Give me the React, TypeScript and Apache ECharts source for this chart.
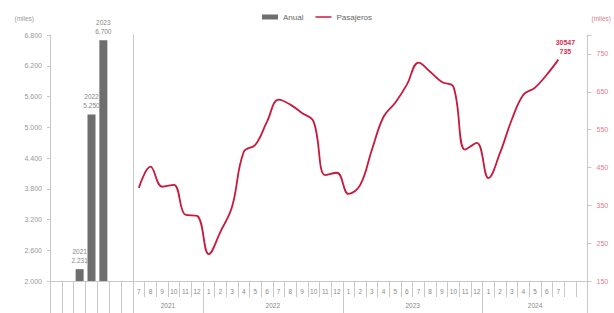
import React, { useEffect, useRef } from "react";
import * as echarts from "echarts";

// Annual bars (thousands)
const years = ["2021", "2022", "2023"];
const annual = [2231, 5250, 6700];
const barSlotsBefore = 2;
const barSlotsAfter = 2;

// Monthly passengers (thousands), Jul 2021 – Jul 2024
const months = [
  "7", "8", "9", "10", "11", "12",
  "1", "2", "3", "4", "5", "6", "7", "8", "9", "10", "11", "12",
  "1", "2", "3", "4", "5", "6", "7", "8", "9", "10", "11", "12",
  "1", "2", "3", "4", "5", "6", "7", "", "",
];
const pasajeros = [
  396, 452, 399, 404, 325, 322,
  221, 280, 346, 491, 510, 571, 629, 616, 594, 571, 430, 436,
  380, 404, 497, 584, 621, 669, 727, 703, 676, 663, 497, 515,
  422, 489, 576, 642, 661, 695, 735,
];
const lineYears = ["2021", "2022", "2023", "2024"];
const yearSpans = [6, 12, 12, 9];
const lastLabel = ["30547", "735"];

const leftTicks = { min: 2000, max: 6800, interval: 600 };
const rightTicks = { min: 150, max: 800, interval: 100, hide: 800 };

const fmt = (v: number) =>
  String(Math.round(v)).replace(/\B(?=(\d{3})+(?!\d))/g, ".");

export default function App() {
  const ref = useRef<HTMLDivElement>(null);
  useEffect(() => {
    if (!ref.current) return;
    const chart = echarts.init(ref.current, undefined, { renderer: "svg" });

    const barCats = [
      ...Array(barSlotsBefore).fill(""),
      ...years,
      ...Array(barSlotsAfter).fill(""),
    ];
    const barData = [
      ...Array(barSlotsBefore).fill(null),
      ...annual,
      ...Array(barSlotsAfter).fill(null),
    ];

    // half-month positions for the year axis
    const totalSlots = yearSpans.reduce((a, b) => a + b, 0);
    const halfCats: string[] = Array(totalSlots * 2 + 1).fill("");
    const labelIdx = new Set<number>();
    const tickIdx = new Set<number>([0]);
    let acc = 0;
    yearSpans.forEach((span, i) => {
      const mid = acc * 2 + span;
      halfCats[mid] = lineYears[i];
      labelIdx.add(mid);
      acc += span;
      tickIdx.add(acc * 2);
    });

    const axisGray = "#c8c8c8";
    const font = "Liberation Sans, Arial, sans-serif";
    const red = "#c8193c";

    chart.setOption({
      animation: false,
      textStyle: { fontFamily: font },
      legend: {
        top: 8,
        left: 257,
        itemGap: 12,
        itemWidth: 16,
        itemHeight: 5,
        textStyle: { fontSize: 8, color: "#666", fontFamily: font },
        data: [
          { name: "Anual", icon: "rect" },
          { name: "Pasajeros", icon: "path://M0,0H32V3H0Z" },
        ],
      },
      grid: [
        { left: 50, width: 83, top: 35, height: 246 },
        { left: 133, width: 455, top: 35, height: 246 },
      ],
      xAxis: [
        {
          type: "category",
          gridIndex: 0,
          data: barCats,
          axisLine: { lineStyle: { color: axisGray } },
          axisTick: { show: true, interval: 0, length: 32, lineStyle: { color: axisGray } },
          axisLabel: { show: false },
        },
        {
          type: "category",
          gridIndex: 1,
          data: months,
          boundaryGap: true,
          axisLine: { lineStyle: { color: axisGray } },
          axisTick: { show: true, length: 16, interval: 0, lineStyle: { color: axisGray } },
          axisLabel: { interval: 0, fontSize: 6.5, color: "#888", margin: 7 },
        },
        {
          type: "category",
          gridIndex: 1,
          data: halfCats,
          boundaryGap: false,
          position: "bottom",
          axisLine: { show: false },
          axisTick: {
            show: true,
            length: 32,
            interval: (idx: number) => tickIdx.has(idx),
            lineStyle: { color: axisGray },
          },
          axisLabel: {
            interval: (idx: number) => labelIdx.has(idx),
            fontSize: 6.5,
            color: "#888",
            margin: 21,
          },
        },
      ],
      yAxis: [
        {
          type: "value",
          gridIndex: 0,
          min: leftTicks.min,
          max: leftTicks.max,
          interval: leftTicks.interval,
          name: "(miles)",
          nameGap: 13,
          nameTextStyle: { fontSize: 6.5, color: "#999", align: "right", padding: [0, 16, 0, 0] },
          axisLine: { show: true, lineStyle: { color: axisGray } },
          axisTick: { show: true, length: 3, lineStyle: { color: axisGray } },
          axisLabel: { fontSize: 7, color: "#999", margin: 8, formatter: (v: number) => fmt(v) },
          splitLine: { show: false },
        },
        {
          type: "value",
          gridIndex: 1,
          position: "right",
          min: rightTicks.min,
          max: rightTicks.max,
          interval: rightTicks.interval,
          name: "(miles)",
          nameGap: 13,
          nameTextStyle: { fontSize: 6.5, color: "#e27d8e", align: "left", padding: [0, 0, 0, 4] },
          axisLine: { show: true, lineStyle: { color: axisGray } },
          axisTick: { show: true, length: 4, lineStyle: { color: axisGray } },
          axisLabel: {
            fontSize: 7,
            color: "#e27d8e",
            margin: 9,
            formatter: (v: number) => (v === rightTicks.hide ? "" : String(v)),
          },
          splitLine: { show: false },
        },
        {
          type: "value",
          gridIndex: 1,
          position: "left",
          min: rightTicks.min,
          max: rightTicks.max,
          axisLine: { show: true, lineStyle: { color: axisGray } },
          axisTick: { show: false },
          axisLabel: { show: false },
          splitLine: { show: false },
        },
      ],
      series: [
        {
          name: "Anual",
          type: "bar",
          xAxisIndex: 0,
          yAxisIndex: 0,
          data: barData,
          barWidth: 8,
          itemStyle: { color: "#6e6e6e" },
          label: {
            show: true,
            position: "top",
            distance: 4,
            fontSize: 6.5,
            lineHeight: 9,
            color: "#888",
            formatter: (p: any) => `${p.name}\n${fmt(p.value)}`,
          },
        },
        {
          name: "Pasajeros",
          type: "line",
          xAxisIndex: 1,
          yAxisIndex: 1,
          data: pasajeros,
          smooth: 0.4,
          showSymbol: false,
          symbol: "none",
          lineStyle: { color: red, width: 1.8 },
          itemStyle: { color: red },
          endLabel: {
            show: true,
            formatter: lastLabel.join("\n"),
            align: "center",
            verticalAlign: "bottom",
            distance: 7,
            padding: [0, 0, 4, 0],
            color: "#d9304f",
            fontWeight: "bold",
            fontSize: 7,
            lineHeight: 9,
          },
        },
      ],
    });
    return () => chart.dispose();
  }, []);

  return (
    <div
      ref={ref}
      style={{ position: "fixed", left: 0, top: 0, width: 614, height: 313, background: "#fff" }}
    />
  );
}
